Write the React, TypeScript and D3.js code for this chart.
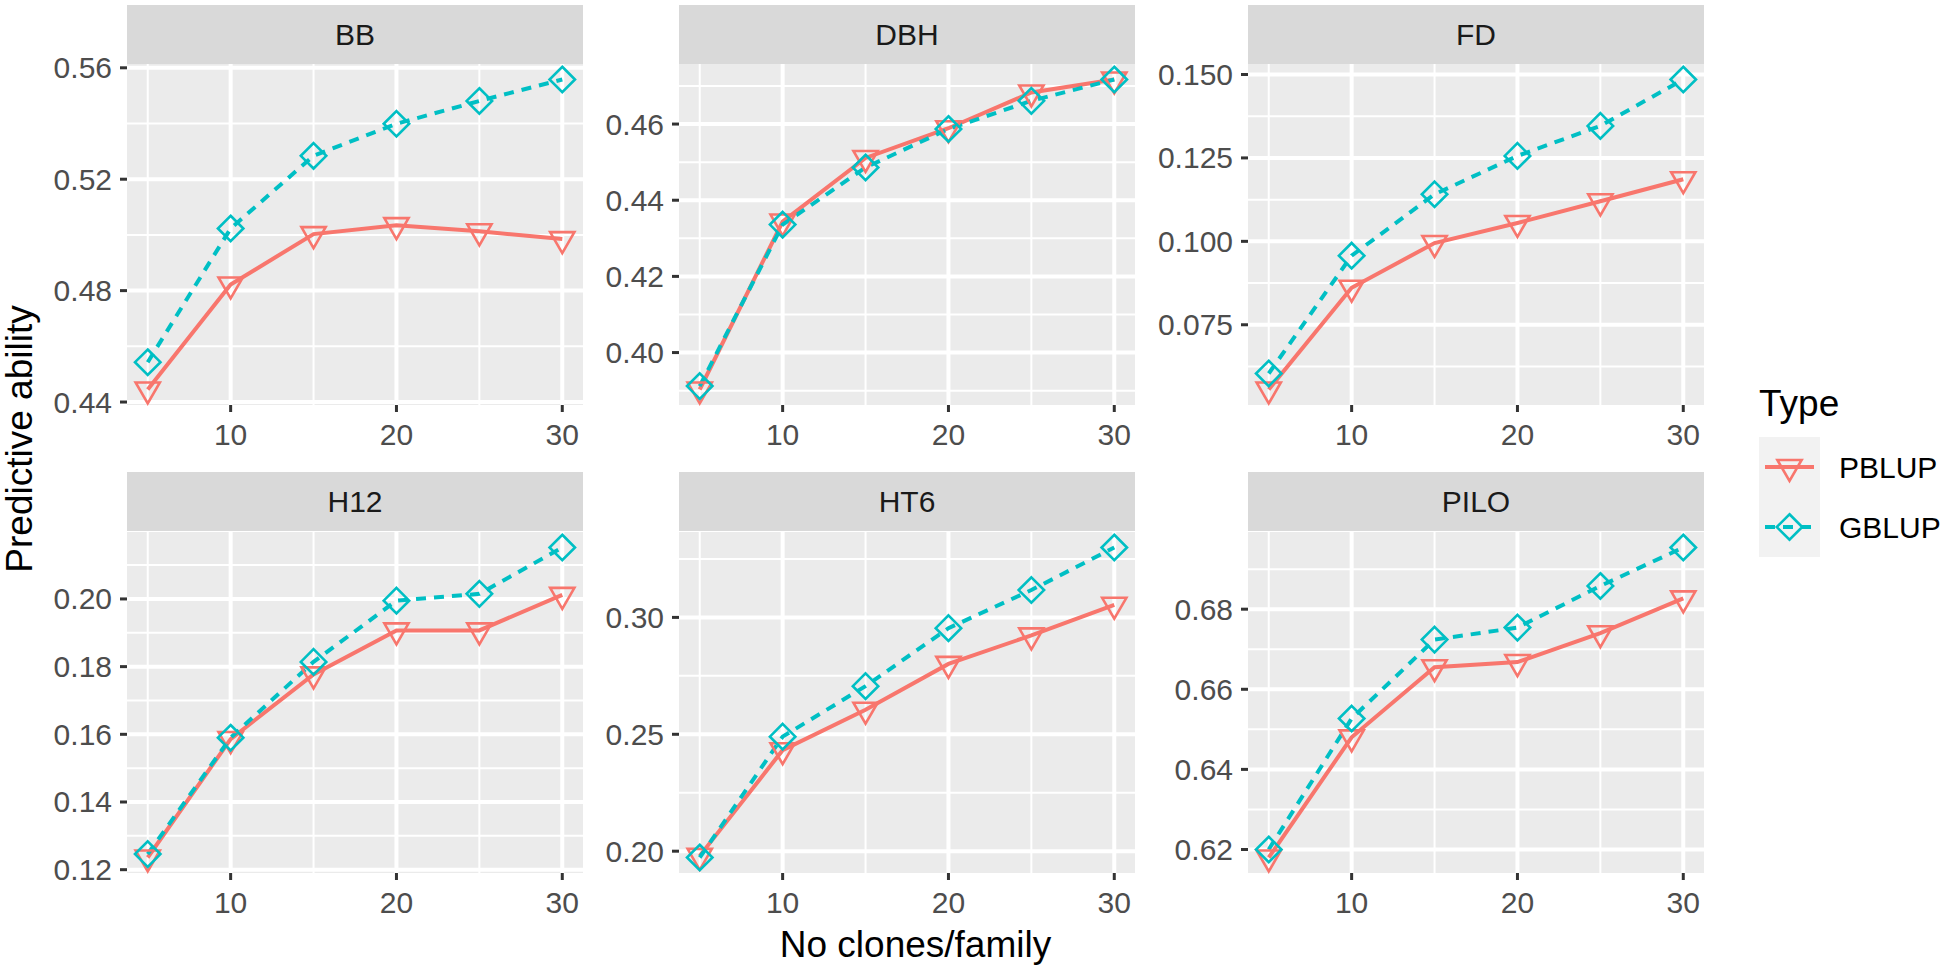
import React from "react";
import * as d3 from "d3";

// ---------- data ----------
const clones = [5, 10, 15, 20, 25, 30];
const traits = ["BB", "DBH", "FD", "H12", "HT6", "PILO"];
const types = ["PBLUP", "GBLUP"];

const pblupBB = [0.4445, 0.4822, 0.5003, 0.5035, 0.5013, 0.4985];
const gblupBB = [0.4543, 0.5023, 0.5284, 0.5399, 0.5481, 0.5558];
const pblupDBH = [0.3903, 0.4344, 0.4511, 0.4589, 0.4683, 0.4717];
const gblupDBH = [0.3912, 0.4336, 0.4486, 0.4587, 0.4661, 0.4717];
const pblupFD = [0.0556, 0.0861, 0.0995, 0.1055, 0.112, 0.1186];
const gblupFD = [0.0604, 0.0957, 0.1141, 0.1256, 0.1346, 0.1485];
const pblupH12 = [0.1236, 0.1586, 0.1777, 0.1907, 0.1907, 0.2012];
const gblupH12 = [0.1246, 0.159, 0.1814, 0.1995, 0.2015, 0.2152];
const pblupHT6 = [0.198, 0.2432, 0.2605, 0.2801, 0.2923, 0.3054];
const gblupHT6 = [0.1973, 0.249, 0.2706, 0.2954, 0.3117, 0.3299];
const pblupPILO = [0.618, 0.648, 0.6655, 0.6668, 0.674, 0.6827];
const gblupPILO = [0.62, 0.6527, 0.6724, 0.6754, 0.6858, 0.6954];

const xTicks = [10, 20, 30];
const xMinorTicks = [5, 15, 25];

const yTicksBB = [0.44, 0.48, 0.52, 0.56];
const yTicksDBH = [0.4, 0.42, 0.44, 0.46];
const yTicksFD = [0.075, 0.1, 0.125, 0.15];
const yTicksH12 = [0.12, 0.14, 0.16, 0.18, 0.2];
const yTicksHT6 = [0.2, 0.25, 0.3];
const yTicksPILO = [0.62, 0.64, 0.66, 0.68];

const yLabelsBB = ["0.44", "0.48", "0.52", "0.56"];
const yLabelsDBH = ["0.40", "0.42", "0.44", "0.46"];
const yLabelsFD = ["0.075", "0.100", "0.125", "0.150"];
const yLabelsH12 = ["0.12", "0.14", "0.16", "0.18", "0.20"];
const yLabelsHT6 = ["0.20", "0.25", "0.30"];
const yLabelsPILO = ["0.62", "0.64", "0.66", "0.68"];

const xTitle = "No clones/family";
const yTitle = "Predictive ability";
const legendTitle = "Type";

// ---------- build ----------
const seriesByTrait: Record<string, number[][]> = {
  BB: [pblupBB, gblupBB],
  DBH: [pblupDBH, gblupDBH],
  FD: [pblupFD, gblupFD],
  H12: [pblupH12, gblupH12],
  HT6: [pblupHT6, gblupHT6],
  PILO: [pblupPILO, gblupPILO],
};
const ticksByTrait: Record<string, number[]> = {
  BB: yTicksBB, DBH: yTicksDBH, FD: yTicksFD, H12: yTicksH12, HT6: yTicksHT6, PILO: yTicksPILO,
};
const labelsByTrait: Record<string, string[]> = {
  BB: yLabelsBB, DBH: yLabelsDBH, FD: yLabelsFD, H12: yLabelsH12, HT6: yLabelsHT6, PILO: yLabelsPILO,
};

const COLORS = ["#F8766D", "#00BFC4"];
const FONT = "'Liberation Sans', Arial, Helvetica, sans-serif";
const W = 1944;
const H = 968;

const panelLefts = [127, 679, 1248];
const panelW = 456;
const stripTops = [5, 472];
const stripH = 59;
const panelTops = [64, 532];
const panelH = 341;

const R = 9;
const triPath = (() => {
  const hw = 1.347 * R, up = 0.778 * R, down = 1.555 * R;
  return `M${-hw},${-up}L${hw},${-up}L0,${down}Z`;
})();
const diaPath = (() => {
  const d = 1.414 * R;
  return `M0,${-d}L${d},0L0,${d}L${-d},0Z`;
})();
const shapes = [triPath, diaPath];
const dashes = [undefined, "10 8"];

function Panel({ trait, idx }: { trait: string; idx: number }) {
  const col = idx % 3;
  const row = Math.floor(idx / 3);
  const x0 = panelLefts[col];
  const y0 = panelTops[row];
  const series = seriesByTrait[trait];
  const all = series.flat();
  const [mn, mx] = d3.extent(all) as [number, number];
  const pad = (mx - mn) * 0.05;
  const y = d3.scaleLinear().domain([mn - pad, mx + pad]).range([y0 + panelH, y0]);
  const x = d3.scaleLinear().domain([3.75, 31.25]).range([x0, x0 + panelW]);
  const ticks = ticksByTrait[trait];
  const labels = labelsByTrait[trait];
  const step = ticks[1] - ticks[0];
  const minors: number[] = [];
  for (let v = ticks[0] - step / 2; v <= ticks[ticks.length - 1] + step / 2 + 1e-9; v += step) {
    if (v >= mn - pad && v <= mx + pad) minors.push(v);
  }
  const line = d3
    .line<number>()
    .x((_, i) => x(clones[i]))
    .y((d) => y(d));
  return (
    <g>
      <rect x={x0} y={stripTops[row]} width={panelW} height={stripH} fill="#D9D9D9" />
      <text
        x={x0 + panelW / 2}
        y={stripTops[row] + stripH / 2}
        dy="0.35em"
        textAnchor="middle"
        fontSize={30}
        fill="#1A1A1A"
        fontFamily={FONT}
      >
        {trait}
      </text>
      <rect x={x0} y={y0} width={panelW} height={panelH} fill="#EBEBEB" />
      {minors.map((v, i) => (
        <line key={"ym" + i} x1={x0} x2={x0 + panelW} y1={y(v)} y2={y(v)} stroke="#fff" strokeWidth={2} />
      ))}
      {xMinorTicks.map((v, i) => (
        <line key={"xm" + i} x1={x(v)} x2={x(v)} y1={y0} y2={y0 + panelH} stroke="#fff" strokeWidth={2} />
      ))}
      {ticks.map((v, i) => (
        <line key={"yg" + i} x1={x0} x2={x0 + panelW} y1={y(v)} y2={y(v)} stroke="#fff" strokeWidth={4} />
      ))}
      {xTicks.map((v, i) => (
        <line key={"xg" + i} x1={x(v)} x2={x(v)} y1={y0} y2={y0 + panelH} stroke="#fff" strokeWidth={4} />
      ))}
      {series.map((s, si) => (
        <path
          key={"l" + si}
          d={line(s) || ""}
          fill="none"
          stroke={COLORS[si]}
          strokeWidth={4}
          strokeDasharray={dashes[si]}
        />
      ))}
      {series.map((s, si) =>
        s.map((v, i) => (
          <path
            key={"p" + si + "-" + i}
            d={shapes[si]}
            transform={`translate(${x(clones[i])},${y(v)})`}
            fill="none"
            stroke={COLORS[si]}
            strokeWidth={2.6}
          />
        ))
      )}
      {ticks.map((v, i) => (
        <g key={"yt" + i}>
          <line x1={x0 - 7} x2={x0} y1={y(v)} y2={y(v)} stroke="#333333" strokeWidth={3} />
          <text
            x={x0 - 15}
            y={y(v)}
            dy="0.35em"
            textAnchor="end"
            fontSize={30}
            fill="#4D4D4D"
            fontFamily={FONT}
          >
            {labels[i]}
          </text>
        </g>
      ))}
      {xTicks.map((v, i) => (
        <g key={"xt" + i}>
          <line x1={x(v)} x2={x(v)} y1={y0 + panelH} y2={y0 + panelH + 7} stroke="#333333" strokeWidth={3} />
          <text
            x={x(v)}
            y={y0 + panelH + 40}
            textAnchor="middle"
            fontSize={30}
            fill="#4D4D4D"
            fontFamily={FONT}
          >
            {v}
          </text>
        </g>
      ))}
    </g>
  );
}

export default function App() {
  const legX = 1759;
  const keyW = 61;
  const keyH = 60;
  const keyTop = 437;
  return (
    <svg
      width={W}
      height={H}
      viewBox={`0 0 ${W} ${H}`}
      style={{ position: "absolute", left: 0, top: 0, background: "#fff" }}
    >
      <rect x={0} y={0} width={W} height={H} fill="#fff" />
      {traits.map((t, i) => (
        <Panel key={t} trait={t} idx={i} />
      ))}
      <text
        x={(panelLefts[0] + panelLefts[2] + panelW) / 2}
        y={957}
        textAnchor="middle"
        fontSize={37}
        fill="#000"
        fontFamily={FONT}
      >
        {xTitle}
      </text>
      <text
        transform={`translate(32,${(stripTops[0] + panelTops[1] + panelH) / 2}) rotate(-90)`}
        textAnchor="middle"
        fontSize={37}
        fill="#000"
        fontFamily={FONT}
      >
        {yTitle}
      </text>
      <text x={legX} y={416} fontSize={37} fill="#000" fontFamily={FONT}>
        {legendTitle}
      </text>
      {types.map((t, i) => {
        const cy = keyTop + keyH * i + keyH / 2;
        return (
          <g key={t}>
            <rect x={legX} y={keyTop + keyH * i} width={keyW} height={keyH} fill="#F2F2F2" />
            <line
              x1={legX + 6}
              x2={legX + keyW - 6}
              y1={cy}
              y2={cy}
              stroke={COLORS[i]}
              strokeWidth={4}
              strokeDasharray={dashes[i]}
            />
            <path
              d={shapes[i]}
              transform={`translate(${legX + keyW / 2},${cy})`}
              fill="none"
              stroke={COLORS[i]}
              strokeWidth={2.6}
            />
            <text x={legX + keyW + 19} y={cy} dy="0.35em" fontSize={30} fill="#000" fontFamily={FONT}>
              {t}
            </text>
          </g>
        );
      })}
    </svg>
  );
}
